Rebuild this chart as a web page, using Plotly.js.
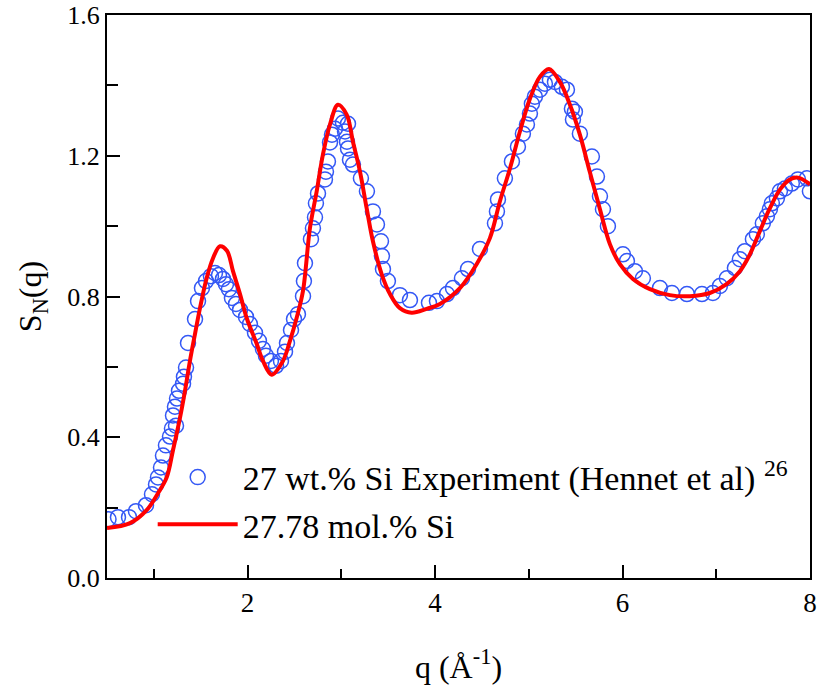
<!DOCTYPE html>
<html>
<head>
<meta charset="utf-8">
<script src="https://cdn.plot.ly/plotly-3.0.1.min.js"></script>
</head>
<body style="margin:0;background:#fff">
<div id="chart" style="width:817px;height:693px;"></div>
<script>
// Experimental S_N(q), 27 wt.% Si (Hennet et al)
const expQ = [0.516,0.617,0.735,0.809,0.916,0.980,1.023,1.044,1.076,1.097,1.129,1.172,1.193,1.236,1.204,1.225,1.247,1.268,1.311,1.321,1.343,1.364,1.439,1.471,1.513,1.556,1.609,1.652,1.695,1.737,1.769,1.801,1.833,1.876,1.919,1.983,2.025,2.079,2.121,2.164,2.196,2.249,2.303,2.356,2.399,2.420,2.463,2.495,2.537,2.591,2.601,2.612,2.676,2.697,2.719,2.729,2.751,2.825,2.836,2.857,2.879,2.900,2.932,2.964,3.017,3.071,3.039,3.060,3.071,3.092,3.124,3.209,3.273,3.337,3.380,3.423,3.433,3.444,3.497,3.625,3.732,3.935,4.020,4.127,4.191,4.287,4.351,4.479,4.639,4.660,4.671,4.745,4.820,4.884,4.937,4.980,5.012,5.033,5.065,5.119,5.172,5.225,5.279,5.353,5.407,5.460,5.492,5.471,5.545,5.673,5.727,5.759,5.791,5.844,6.004,6.047,6.132,6.217,6.399,6.527,6.687,6.847,6.964,7.039,7.113,7.199,7.252,7.305,7.391,7.433,7.497,7.540,7.572,7.593,7.647,7.679,7.732,7.806,7.871,7.967,7.999];
const expS = [0.167,0.173,0.173,0.190,0.207,0.238,0.266,0.286,0.314,0.348,0.377,0.402,0.425,0.433,0.462,0.487,0.510,0.532,0.552,0.572,0.598,0.668,0.736,0.787,0.824,0.844,0.858,0.867,0.861,0.850,0.835,0.821,0.796,0.779,0.762,0.742,0.722,0.697,0.674,0.651,0.632,0.617,0.603,0.617,0.643,0.668,0.705,0.736,0.750,0.801,0.844,0.895,0.963,0.994,1.025,1.065,1.093,1.133,1.155,1.184,1.238,1.260,1.277,1.306,1.294,1.291,1.269,1.240,1.221,1.189,1.175,1.136,1.099,1.042,1.005,0.957,0.915,0.878,0.844,0.804,0.790,0.782,0.787,0.807,0.824,0.852,0.878,0.935,1.008,1.042,1.076,1.136,1.184,1.226,1.263,1.289,1.320,1.348,1.368,1.388,1.405,1.416,1.410,1.396,1.388,1.334,1.325,1.303,1.263,1.198,1.141,1.085,1.048,1.000,0.920,0.901,0.872,0.852,0.824,0.810,0.807,0.807,0.810,0.830,0.852,0.881,0.906,0.929,0.963,0.977,1.008,1.028,1.048,1.065,1.079,1.099,1.107,1.121,1.133,1.136,1.099];

// Simulated S_N(q), 27.78 mol.% Si
const simQ = [0.50,0.745,0.923,1.044,1.137,1.204,1.279,1.332,1.385,1.439,1.492,1.563,1.631,1.705,1.780,1.844,1.919,1.990,2.097,2.164,2.257,2.377,2.452,2.523,2.591,2.665,2.737,2.804,2.879,2.964,3.057,3.124,3.199,3.270,3.337,3.430,3.519,3.625,3.750,3.910,4.052,4.265,4.443,4.585,4.692,4.799,4.905,5.012,5.119,5.215,5.332,5.439,5.545,5.652,5.759,5.865,5.972,6.111,6.292,6.505,6.719,6.932,7.110,7.252,7.359,7.465,7.572,7.679,7.785,7.871,8.0];
const simS = [0.142,0.156,0.193,0.241,0.286,0.363,0.456,0.532,0.617,0.694,0.767,0.852,0.909,0.943,0.930,0.872,0.807,0.739,0.666,0.617,0.578,0.617,0.674,0.739,0.816,0.994,1.099,1.204,1.289,1.345,1.317,1.240,1.155,1.051,0.957,0.864,0.807,0.767,0.754,0.765,0.779,0.824,0.892,0.966,1.071,1.164,1.269,1.362,1.425,1.447,1.410,1.345,1.260,1.153,1.048,0.949,0.892,0.850,0.821,0.804,0.801,0.810,0.835,0.872,0.920,0.986,1.051,1.104,1.133,1.138,1.119];

const expName = '27 wt.% Si Experiment (Hennet et al) <sup>26</sup>';
const simName = '27.78 mol.% Si';

const FONT = 'Liberation Serif, serif';

var traces = [
  {
    x: expQ, y: expS, type: 'scatter', mode: 'markers', name: expName,
    marker: {symbol: 'circle-open', size: 15, color: '#3458f5', line: {width: 1.5, color: '#3458f5'}}
  },
  {
    x: simQ, y: simS, type: 'scatter', mode: 'lines', name: simName,
    line: {color: '#ff0000', width: 4, shape: 'spline', smoothing: 1}
  }
];

var layout = {
  width: 817, height: 693,
  margin: {l: 107, r: 7, t: 15, b: 115},
  paper_bgcolor: '#fff', plot_bgcolor: '#fff',
  font: {family: FONT, size: 26, color: '#000'},
  showlegend: true,
  legend: {
    x: 0.065, y: 0.23, xanchor: 'left', yanchor: 'top',
    bgcolor: 'rgba(0,0,0,0)', borderwidth: 0,
    font: {family: FONT, size: 34, color: '#000'},
    itemwidth: 80, tracegroupgap: 0
  },
  xaxis: {
    showline: true, linecolor: '#000', linewidth: 2, mirror: true,
    ticks: 'inside', ticklen: 13, tickwidth: 2, tickcolor: '#000',
    showgrid: false, zeroline: false,
    tickfont: {family: FONT, size: 27, color: '#000'},
    ticklabeloverflow: 'allow',
    range: [0.5, 8], tick0: 0, dtick: 2,
    minor: {ticks: 'inside', ticklen: 9, tickwidth: 2, tickcolor: '#000', dtick: 1, tick0: 0, showgrid: false},
    title: {text: 'q (Å<sup>-1</sup>)', font: {family: FONT, size: 32, color: '#000'}, standoff: 38}
  },
  yaxis: {
    showline: true, linecolor: '#000', linewidth: 2, mirror: true,
    ticks: 'inside', ticklen: 13, tickwidth: 2, tickcolor: '#000',
    showgrid: false, zeroline: false,
    tickfont: {family: FONT, size: 26, color: '#000'},
    ticklabeloverflow: 'allow',
    range: [0, 1.6002], tick0: 0, dtick: 0.4, tickformat: '.1f',
    minor: {ticks: 'inside', ticklen: 11, tickwidth: 2, tickcolor: '#000', dtick: 0.2, tick0: 0, showgrid: false},
    title: {text: 'S<sub>N</sub>(q)', font: {family: FONT, size: 32, color: '#000'}, standoff: 16}
  }
};

Plotly.newPlot('chart', traces, layout, {displayModeBar: false});
</script>
</body>
</html>
